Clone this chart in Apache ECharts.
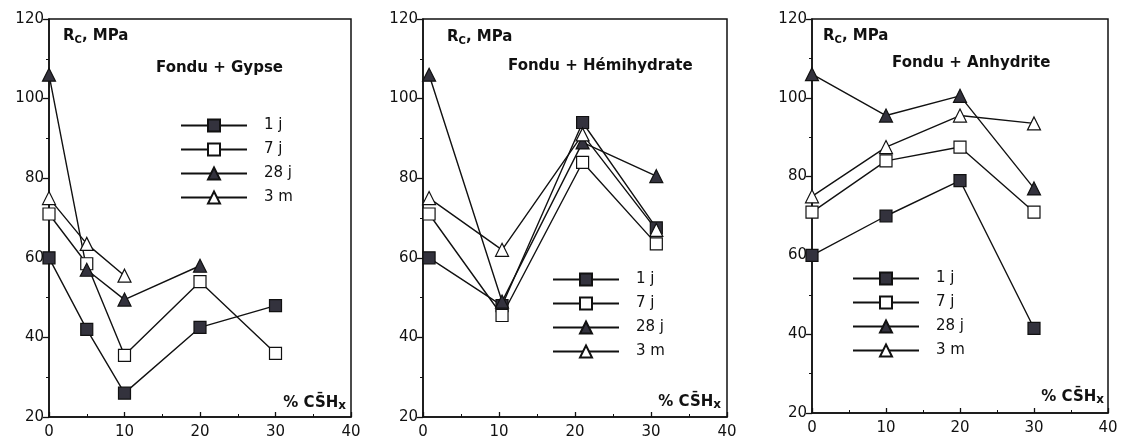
<!DOCTYPE html>
<html>
<head>
<meta charset="utf-8">
<style>
  html, body { margin: 0; padding: 0; background: #fff; }
  #chart { width: 1127px; height: 444px; }
</style>
<script src="https://cdn.jsdelivr.net/npm/echarts@6/dist/echarts.min.js"></script>
</head>
<body>
<div id="chart"></div>
<script>
// legend names (ages)
const ages = ['1 j', '7 j', '28 j', '3 m']

// panel titles
const panelTitles = ['Fondu + Gypse', 'Fondu + Hémihydrate', 'Fondu + Anhydrite']

// Fondu + Gypse
const gypseX = [0, 5, 10, 20, 30]
const gypse1j = [60, 42, 26, 42.5, 48]
const gypse7j = [71, 58.5, 35.5, 54, 36]
const gypse28j = [106, 57, 49.5, 58, null]
const gypse3m = [75, 63.5, 55.5, null, null]

// Fondu + Hémihydrate
const hemiX = [0.8, 10.4, 21, 30.7]
const hemi1j = [60, 48, 94, 67.5]
const hemi7j = [71, 45.5, 84, 63.5]
const hemi28j = [106, 49, 89, 80.5]
const hemi3m = [75, 62, 91, 67]

// Fondu + Anhydrite
const anhyX = [0, 10, 20, 30]
const anhy1j = [60, 70, 79, 41.5]
const anhy7j = [71, 84, 87.5, 71]
const anhy28j = [106, 95.5, 100.5, 77]
const anhy3m = [75, 87.5, 95.5, 93.5]

const fontColor = '#111'
const tickFont = 'DejaVu Sans'

// marker style per age
const markerStyles = [
  { symbol: 'rect', symbolSize: 12, fill: '#33323d' },
  { symbol: 'rect', symbolSize: 12, fill: '#fff' },
  { symbol: 'triangle', symbolSize: 13, fill: '#33323d' },
  { symbol: 'triangle', symbolSize: 13, fill: '#fff' }
]

const panels = [
  { x: gypseX, ys: [gypse1j, gypse7j, gypse28j, gypse3m] },
  { x: hemiX, ys: [hemi1j, hemi7j, hemi28j, hemi3m] },
  { x: anhyX, ys: [anhy1j, anhy7j, anhy28j, anhy3m] }
]

// grid boxes (px)
const grids = [
  { left: 49, top: 19, width: 302, height: 398 },
  { left: 423, top: 19, width: 304, height: 398 },
  { left: 812, top: 19, width: 296, height: 394 }
]

const legendPos = [
  { left: 180, top: 118 },
  { left: 552, top: 272 },
  { left: 852, top: 271 }
]

const rcPos = [[63, 36], [447, 37], [823, 36]]
const titlePos = [[156, 68], [508, 66], [892, 63]]
const cshPos = [[346, 403], [721, 402], [1104, 397]]

function pairs (xs, ys) {
  const out = []
  ys.forEach((y, i) => {
    if (y !== null) out.push([xs[i], y])
  })
  return out
}

const series = []
panels.forEach((p, gi) => {
  p.ys.forEach((ys, si) => {
    const m = markerStyles[si]
    series.push({
      name: ages[si],
      type: 'line',
      xAxisIndex: gi,
      yAxisIndex: gi,
      data: pairs(p.x, ys),
      symbol: m.symbol,
      symbolSize: m.symbolSize,
      showAllSymbol: true,
      lineStyle: { color: fontColor, width: 1.4 },
      itemStyle: { color: m.fill, borderColor: fontColor, borderWidth: 1.2, opacity: 1 },
      emphasis: { disabled: true },
      z: 3
    })
  })
})

const xAxis = grids.map((g, i) => ({
  type: 'value',
  gridIndex: i,
  min: 0,
  max: 40,
  interval: 10,
  axisLine: { show: true, onZero: false, lineStyle: { color: fontColor, width: 1.5 } },
  axisTick: { show: true, inside: true, length: 5, lineStyle: { color: fontColor, width: 1.3 } },
  minorTick: { show: true, splitNumber: 2, length: 3, lineStyle: { color: fontColor } },
  axisLabel: { color: fontColor, fontFamily: tickFont, fontSize: 15, margin: 8 },
  splitLine: { show: false }
}))

const yAxis = grids.map((g, i) => ({
  type: 'value',
  gridIndex: i,
  min: 20,
  max: 120,
  interval: 20,
  axisLine: { show: true, onZero: false, lineStyle: { color: fontColor, width: 1.5 } },
  axisTick: { show: true, length: 6, lineStyle: { color: fontColor, width: 1.3 } },
  minorTick: { show: true, splitNumber: 2, length: 3, lineStyle: { color: fontColor } },
  axisLabel: { color: fontColor, fontFamily: tickFont, fontSize: 15, margin: 5 },
  splitLine: { show: false }
}))

const legend = legendPos.map(pos => ({
  ...pos,
  orient: 'vertical',
  padding: 0,
  data: ages,
  selectedMode: false,
  itemWidth: 66,
  itemHeight: 15,
  itemGap: 9,
  textStyle: { color: fontColor, fontFamily: tickFont, fontSize: 15, padding: [0, 0, 0, 12] }
}))

const graphic = []
rcPos.forEach(([x, y]) => {
  graphic.push({
    type: 'text',
    x, y,
    style: {
      text: '{a|R}{s|C}{a|, MPa}',
      verticalAlign: 'middle',
      rich: {
        a: { fontFamily: 'DejaVu Sans', fontWeight: 'bold', fontSize: 15, lineHeight: 18, fill: fontColor },
        s: { fontFamily: 'DejaVu Sans', fontWeight: 'bold', fontSize: 10, lineHeight: 8, verticalAlign: 'bottom', fill: fontColor }
      }
    }
  })
})
titlePos.forEach(([x, y], i) => {
  graphic.push({
    type: 'text',
    x, y,
    style: {
      text: panelTitles[i],
      verticalAlign: 'middle',
      font: 'bold 15px "DejaVu Sans"',
      fill: fontColor
    }
  })
})
cshPos.forEach(([x, y]) => {
  graphic.push({
    type: 'text',
    x, y,
    style: {
      text: '{a|% CS\u0304H}{s|x}',
      align: 'right',
      verticalAlign: 'middle',
      rich: {
        a: { fontFamily: 'DejaVu Sans', fontWeight: 'bold', fontSize: 15, lineHeight: 18, fill: fontColor },
        s: { fontFamily: 'DejaVu Sans', fontWeight: 'bold', fontSize: 12, lineHeight: 8, verticalAlign: 'bottom', fill: fontColor }
      }
    }
  })
})

const chart = echarts.init(document.getElementById('chart'))
chart.setOption({
  backgroundColor: '#fff',
  animation: false,
  grid: grids.map(g => ({ ...g, show: true, borderColor: fontColor, borderWidth: 1.5, backgroundColor: 'transparent' })),
  xAxis,
  yAxis,
  legend,
  graphic,
  series
})
</script>
</body>
</html>
